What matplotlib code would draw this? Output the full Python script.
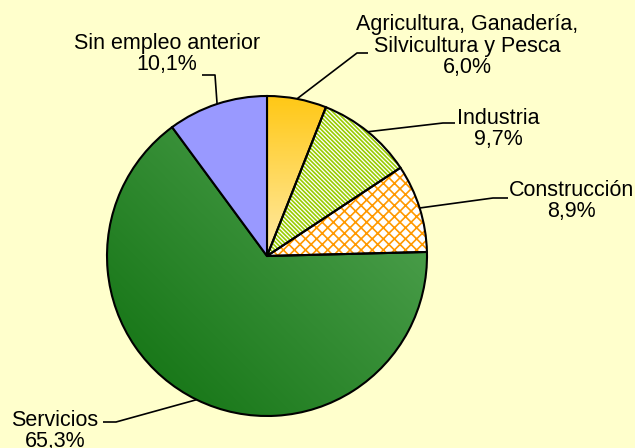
import numpy as np
import matplotlib.pyplot as plt
from matplotlib.patches import Wedge
from matplotlib.colors import LinearSegmentedColormap

sectors = ['Agricultura, Ganadería,\nSilvicultura y Pesca', 'Industria', 'Construcción',
           'Servicios', 'Sin empleo anterior']
shares = [6.0, 9.7, 8.9, 65.3, 10.1]
share_labels = ['6,0%', '9,7%', '8,9%', '65,3%', '10,1%']

W, H = 635, 448
cx, cy, r = 267, H - 256, 160

plt.rcParams['font.family'] = ['Liberation Sans', 'DejaVu Sans']
plt.rcParams['hatch.linewidth'] = 1.2

fig = plt.figure(figsize=(W / 100, H / 100), dpi=100, facecolor='#ffffcc')
ax = fig.add_axes([0, 0, 1, 1])

wedges, _ = ax.pie(shares, center=(cx, cy), radius=r, startangle=90, counterclock=False,
                   colors=['none', 'none', 'none', 'none', '#9999ff'],
                   wedgeprops=dict(edgecolor='black', linewidth=1.5))
ax.set_xlim(0, W)
ax.set_ylim(0, H)
ax.set_aspect('equal')
ax.axis('off')


def hatch_under(w, pattern, color):
    p = Wedge(w.center, w.r, w.theta1, w.theta2, facecolor='white', edgecolor=color,
              linewidth=0, hatch=pattern, zorder=0.5)
    ax.add_patch(p)


def gradient_under(w, c0, c1, mode):
    n = 300
    gy, gx = np.mgrid[0:1:n * 1j, 0:1:n * 1j]
    if mode == 'vertical':
        t = np.clip((gy - 0.5) * 2, 0, 1)
    else:
        t = (gx + gy) / 2
    cmap = LinearSegmentedColormap.from_list('g', [c0, c1])
    im = ax.imshow(t, cmap=cmap, origin='lower', vmin=0, vmax=1,
                   extent=(cx - r, cx + r, cy - r, cy + r), zorder=0.5, interpolation='bilinear')
    clip = Wedge(w.center, w.r, w.theta1, w.theta2, transform=ax.transData)
    im.set_clip_path(clip)


gradient_under(wedges[0], '#ffeba8', '#ffc816', 'vertical')
hatch_under(wedges[1], '\\' * 8, '#99cc00')
hatch_under(wedges[2], 'xxx', '#ff9900')
gradient_under(wedges[3], '#0f700f', '#5aaa5a', 'diagonal')

# leader elbows / stub ends and label centres (pixel coords, y from top)
elbows = [(357, 53), (443, 123), (493, 198), (116, 422), (215, 75)]
stubs = [(368, 53), (455, 123), (508, 198), (103, 422), (202, 75)]
label_pos = [(467, 46), (498, 129), (571, 201), (55, 431), (167, 54)]

for w, name, pct, el, st, lp in zip(wedges, sectors, share_labels, elbows, stubs, label_pos):
    a = np.deg2rad((w.theta1 + w.theta2) / 2)
    ex, ey = cx + r * np.cos(a), cy + r * np.sin(a)
    ax.plot([ex, el[0], st[0]], [ey, H - el[1], H - st[1]], color='black', lw=1.2,
            solid_capstyle='butt', zorder=3)
    ax.text(lp[0], H - lp[1], f'{name}\n{pct}', ha='center', va='center', fontsize=15.5,
            linespacing=1.05, color='black', zorder=4)

fig.savefig('out.png', dpi=100, facecolor=fig.get_facecolor())
